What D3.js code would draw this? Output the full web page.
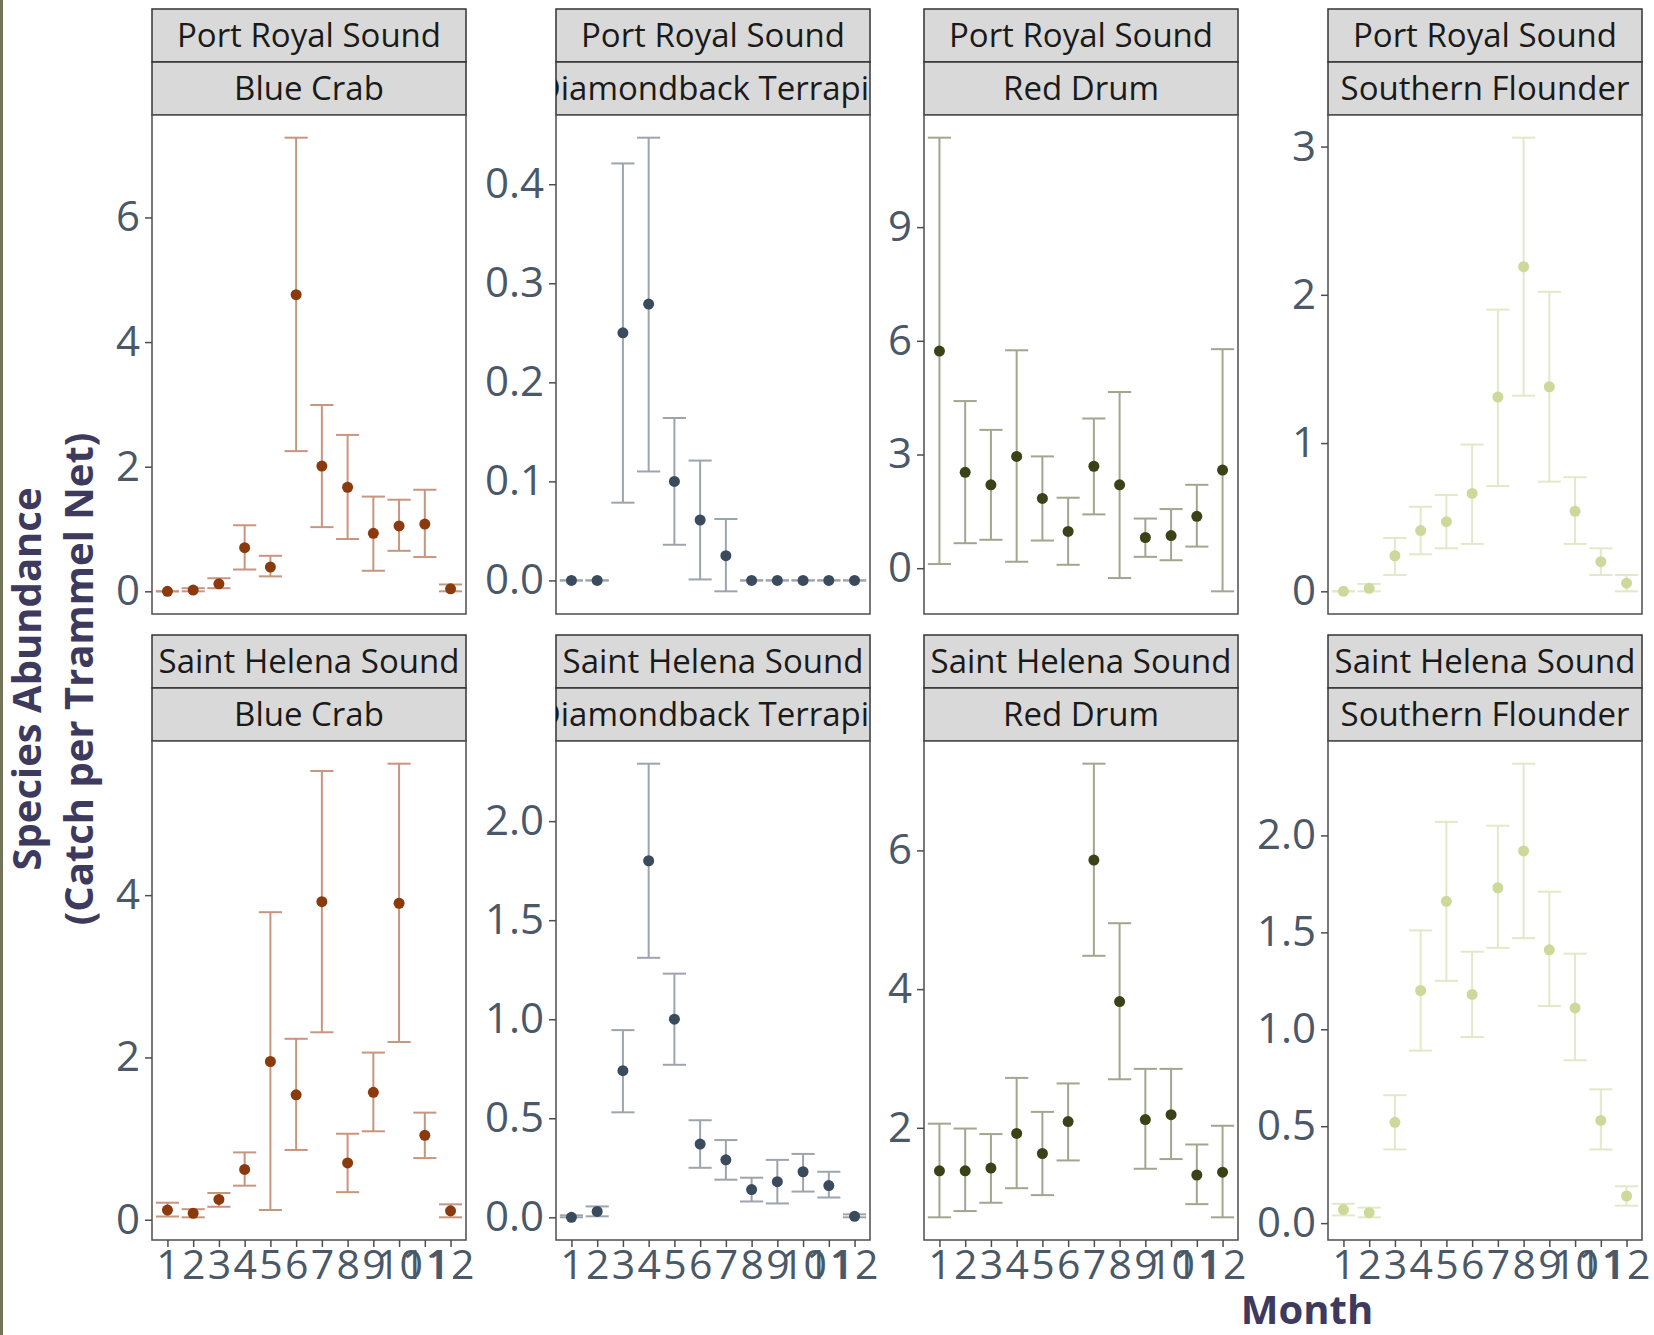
<!DOCTYPE html>
<html>
<head>
<meta charset="utf-8">
<script src="https://cdn.jsdelivr.net/npm/d3@7"></script>
<style>
  body { margin: 0; background: #ffffff; }
  svg text { font-family: "Open Sans", "Noto Sans", sans-serif; }
</style>
</head>
<body>
<div id="chart"></div>
<script>
// months on the x axis
var months = [1, 2, 3, 4, 5, 6, 7, 8, 9, 10, 11, 12];

var sites = ["Port Royal Sound", "Saint Helena Sound"];
var species = ["Blue Crab", "Diamondback Terrapin", "Red Drum", "Southern Flounder"];

// Port Royal Sound - mean, lower, upper
var prBlueCrabMean = [0, 0.02, 0.12, 0.70, 0.39, 4.76, 2.01, 1.67, 0.93, 1.05, 1.08, 0.04];
var prBlueCrabLo   = [0, 0, 0.05, 0.35, 0.24, 2.25, 1.03, 0.84, 0.33, 0.65, 0.55, 0];
var prBlueCrabHi   = [0, 0.05, 0.21, 1.06, 0.57, 7.28, 2.99, 2.51, 1.52, 1.47, 1.63, 0.11];

var prTerrapinMean = [0, 0, 0.25, 0.279, 0.100, 0.061, 0.025, 0, 0, 0, 0, 0];
var prTerrapinLo   = [0, 0, 0.0785, 0.110, 0.036, 0.001, -0.011, 0, 0, 0, 0, 0];
var prTerrapinHi   = [0, 0, 0.421, 0.447, 0.164, 0.121, 0.062, 0, 0, 0, 0, 0];

var prRedDrumMean = [5.73, 2.53, 2.20, 2.95, 1.84, 0.97, 2.69, 2.20, 0.81, 0.86, 1.37, 2.59];
var prRedDrumLo   = [0.11, 0.66, 0.75, 0.17, 0.73, 0.09, 1.42, -0.26, 0.30, 0.21, 0.57, -0.61];
var prRedDrumHi   = [11.36, 4.41, 3.65, 5.75, 2.95, 1.86, 3.95, 4.65, 1.31, 1.56, 2.20, 5.78];

var prFlounderMean = [0, 0.02, 0.24, 0.41, 0.47, 0.66, 1.31, 2.19, 1.38, 0.54, 0.20, 0.055];
var prFlounderLo   = [0, 0, 0.11, 0.25, 0.29, 0.32, 0.71, 1.32, 0.74, 0.32, 0.11, 0];
var prFlounderHi   = [0, 0.05, 0.36, 0.57, 0.65, 0.99, 1.90, 3.06, 2.02, 0.77, 0.29, 0.11];

// Saint Helena Sound - mean, lower, upper
var shBlueCrabMean = [0.12, 0.08, 0.25, 0.62, 1.95, 1.54, 3.92, 0.70, 1.57, 3.90, 1.04, 0.11];
var shBlueCrabLo   = [0.04, 0.03, 0.16, 0.42, 0.12, 0.86, 2.31, 0.34, 1.09, 2.19, 0.76, 0.03];
var shBlueCrabHi   = [0.21, 0.13, 0.33, 0.83, 3.79, 2.23, 5.53, 1.06, 2.06, 5.62, 1.32, 0.19];

var shTerrapinMean = [0, 0.03, 0.74, 1.80, 1.00, 0.37, 0.29, 0.14, 0.18, 0.23, 0.16, 0.005];
var shTerrapinLo   = [0, 0.005, 0.53, 1.31, 0.77, 0.25, 0.19, 0.08, 0.07, 0.13, 0.10, 0];
var shTerrapinHi   = [0.01, 0.055, 0.945, 2.29, 1.23, 0.49, 0.39, 0.20, 0.29, 0.32, 0.23, 0.015];

var shRedDrumMean = [1.38, 1.38, 1.42, 1.92, 1.63, 2.09, 5.86, 3.82, 2.12, 2.19, 1.32, 1.36];
var shRedDrumLo   = [0.71, 0.80, 0.92, 1.13, 1.03, 1.53, 4.48, 2.70, 1.41, 1.55, 0.90, 0.71];
var shRedDrumHi   = [2.06, 1.99, 1.91, 2.72, 2.23, 2.64, 7.25, 4.95, 2.85, 2.85, 1.76, 2.03];

var shFlounderMean = [0.07, 0.054, 0.52, 1.20, 1.66, 1.18, 1.73, 1.92, 1.41, 1.11, 0.53, 0.14];
var shFlounderLo   = [0.04, 0.03, 0.38, 0.89, 1.25, 0.96, 1.42, 1.47, 1.12, 0.84, 0.38, 0.09];
var shFlounderHi   = [0.10, 0.08, 0.66, 1.51, 2.07, 1.40, 2.05, 2.37, 1.71, 1.39, 0.69, 0.19];

// y tick values per species for each site
var prTicks = [[0, 2, 4, 6], [0, 0.1, 0.2, 0.3, 0.4], [0, 3, 6, 9], [0, 1, 2, 3]];
var shTicks = [[0, 2, 4], [0, 0.5, 1, 1.5, 2], [2, 4, 6], [0, 0.5, 1, 1.5, 2]];
// decimals shown in tick labels
var prDecimals = [0, 1, 0, 0];
var shDecimals = [0, 1, 0, 1];

// colours per species
var pointColors = ["#8b3a0e", "#3b4b5e", "#3a4318", "#cdd99a"];
var barColors = ["#c8957e", "#9ea4ac", "#a3a58f", "#e3e8c9"];

// build panel list
var panels = [
  {site: 0, sp: 0, mean: prBlueCrabMean, lo: prBlueCrabLo, hi: prBlueCrabHi, ticks: prTicks[0], dec: prDecimals[0]},
  {site: 0, sp: 1, mean: prTerrapinMean, lo: prTerrapinLo, hi: prTerrapinHi, ticks: prTicks[1], dec: prDecimals[1]},
  {site: 0, sp: 2, mean: prRedDrumMean, lo: prRedDrumLo, hi: prRedDrumHi, ticks: prTicks[2], dec: prDecimals[2]},
  {site: 0, sp: 3, mean: prFlounderMean, lo: prFlounderLo, hi: prFlounderHi, ticks: prTicks[3], dec: prDecimals[3]},
  {site: 1, sp: 0, mean: shBlueCrabMean, lo: shBlueCrabLo, hi: shBlueCrabHi, ticks: shTicks[0], dec: shDecimals[0]},
  {site: 1, sp: 1, mean: shTerrapinMean, lo: shTerrapinLo, hi: shTerrapinHi, ticks: shTicks[1], dec: shDecimals[1]},
  {site: 1, sp: 2, mean: shRedDrumMean, lo: shRedDrumLo, hi: shRedDrumHi, ticks: shTicks[2], dec: shDecimals[2]},
  {site: 1, sp: 3, mean: shFlounderMean, lo: shFlounderLo, hi: shFlounderHi, ticks: shTicks[3], dec: shDecimals[3]}
];

// svg area
var svgWidth = 1654;
var svgHeight = 1335;

var colLeft = [152, 556, 924, 1328];
var rowTop = [9, 635];
var panelWidth = 314;
var stripHeight = 53;
var plotHeight = 499;

var svg = d3.select("#chart")
  .append("svg")
  .attr("width", svgWidth)
  .attr("height", svgHeight);

svg.append("rect")
  .attr("width", svgWidth)
  .attr("height", svgHeight)
  .attr("fill", "#ffffff");

// olive frame edge on the left
svg.append("rect")
  .attr("x", 0)
  .attr("y", 0)
  .attr("width", 3)
  .attr("height", svgHeight)
  .attr("fill", "#74745a");

var xScale = d3.scalePoint()
  .domain(months)
  .range([0, panelWidth])
  .padding(0.6);

var capHalf = xScale.step() * 0.45;

panels.forEach(function(p, i) {
  var left = colLeft[p.sp];
  var top = rowTop[p.site];

  var g = svg.append("g")
    .attr("transform", `translate(${left}, ${top})`);

  // strips
  var strips = [sites[p.site], species[p.sp]];
  strips.forEach(function(label, k) {
    var clipId = "clip-" + i + "-" + k;
    g.append("clipPath")
      .attr("id", clipId)
      .append("rect")
      .attr("x", 0)
      .attr("y", k * stripHeight)
      .attr("width", panelWidth)
      .attr("height", stripHeight);

    g.append("rect")
      .attr("x", 0)
      .attr("y", k * stripHeight)
      .attr("width", panelWidth)
      .attr("height", stripHeight)
      .attr("fill", "#d9d9d9")
      .attr("stroke", "#333333")
      .attr("stroke-width", 1.5);

    g.append("text")
      .attr("clip-path", `url(#${clipId})`)
      .attr("x", panelWidth / 2)
      .attr("y", k * stripHeight + stripHeight / 2)
      .attr("dy", "0.36em")
      .attr("text-anchor", "middle")
      .attr("font-size", 33)
      .attr("fill", "#1a1a1a")
      .text(label);
  });

  var pg = g.append("g")
    .attr("transform", `translate(0, ${2 * stripHeight})`);

  // y scale with 5% expansion like ggplot
  var yMin = d3.min(p.lo);
  var yMax = d3.max(p.hi);
  var pad = (yMax - yMin) * 0.05;
  var yScale = d3.scaleLinear()
    .domain([yMin - pad, yMax + pad])
    .range([plotHeight, 0]);

  pg.append("rect")
    .attr("width", panelWidth)
    .attr("height", plotHeight)
    .attr("fill", "#ffffff")
    .attr("stroke", "#4d4d4d")
    .attr("stroke-width", 1.5);

  // y axis
  var leftAxis = d3.axisLeft(yScale)
    .tickValues(p.ticks)
    .tickSize(7)
    .tickPadding(5)
    .tickFormat(d3.format("." + p.dec + "f"));

  var yAxis = pg.append("g").call(leftAxis);
  yAxis.select(".domain").remove();
  yAxis.selectAll("line").attr("stroke", "#4d4d4d").attr("stroke-width", 1.5);
  yAxis.selectAll("text")
    .attr("font-size", 42)
    .attr("fill", "#4a5868")
    .style("font-family", "'Open Sans', sans-serif");

  // x axis on bottom row only
  if (p.site === 1) {
    var bottomAxis = d3.axisBottom(xScale)
      .tickSize(7)
      .tickPadding(3);
    var xAxis = pg.append("g")
      .attr("transform", `translate(0, ${plotHeight})`)
      .call(bottomAxis);
    xAxis.select(".domain").remove();
    xAxis.selectAll("line").attr("stroke", "#4d4d4d").attr("stroke-width", 1.5);
    xAxis.selectAll("text")
      .attr("font-size", 41)
      .attr("fill", "#4a5868")
      .style("font-family", "'Open Sans', sans-serif");
  }

  var rows = months.map(function(m, j) {
    return {month: m, mean: p.mean[j], lo: p.lo[j], hi: p.hi[j]};
  });

  // error bars
  var bars = pg.append("g")
    .attr("stroke", barColors[p.sp])
    .attr("stroke-width", 2)
    .attr("fill", "none");

  bars.selectAll(".vert")
    .data(rows)
    .enter()
    .append("line")
    .attr("x1", d => xScale(d.month))
    .attr("x2", d => xScale(d.month))
    .attr("y1", d => yScale(d.lo))
    .attr("y2", d => yScale(d.hi));

  bars.selectAll(".capHi")
    .data(rows)
    .enter()
    .append("line")
    .attr("x1", d => xScale(d.month) - capHalf)
    .attr("x2", d => xScale(d.month) + capHalf)
    .attr("y1", d => yScale(d.hi))
    .attr("y2", d => yScale(d.hi));

  bars.selectAll(".capLo")
    .data(rows)
    .enter()
    .append("line")
    .attr("x1", d => xScale(d.month) - capHalf)
    .attr("x2", d => xScale(d.month) + capHalf)
    .attr("y1", d => yScale(d.lo))
    .attr("y2", d => yScale(d.lo));

  // points
  pg.append("g")
    .selectAll("circle")
    .data(rows)
    .enter()
    .append("circle")
    .attr("cx", d => xScale(d.month))
    .attr("cy", d => yScale(d.mean))
    .attr("r", 5.5)
    .attr("fill", pointColors[p.sp]);
});

// axis titles
var yTitle = svg.append("g")
  .attr("transform", "translate(41, 679) rotate(-90)");

yTitle.append("text")
  .attr("x", 0)
  .attr("y", 0)
  .attr("text-anchor", "middle")
  .attr("font-size", 40)
  .attr("font-weight", "bold")
  .attr("fill", "#3d3a5e")
  .text("Species Abundance");

yTitle.append("text")
  .attr("x", 0)
  .attr("y", 52)
  .attr("text-anchor", "middle")
  .attr("font-size", 40)
  .attr("font-weight", "bold")
  .attr("fill", "#3d3a5e")
  .text("(Catch per Trammel Net)");

svg.append("text")
  .attr("x", 1307)
  .attr("y", 1324)
  .attr("text-anchor", "middle")
  .attr("font-size", 40)
  .attr("font-weight", "bold")
  .attr("fill", "#3d3a5e")
  .text("Month");
</script>
</body>
</html>
